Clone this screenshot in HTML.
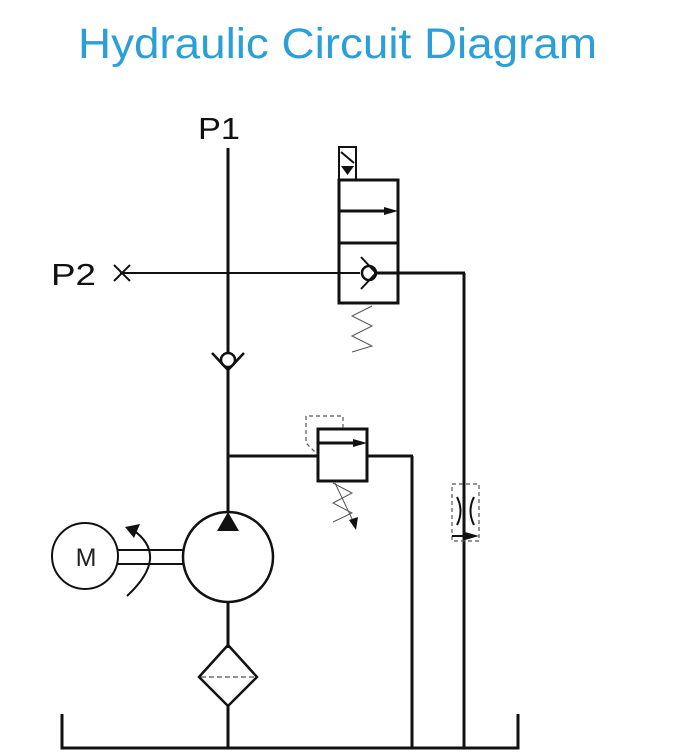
<!DOCTYPE html>
<html><head><style>html,body{margin:0;padding:0;background:#fff;width:700px;height:755px;overflow:hidden}</style></head>
<body>
<svg width="700" height="755" xmlns="http://www.w3.org/2000/svg" style="position:absolute;left:0;top:0">
<text x="78" y="58" textLength="519" lengthAdjust="spacingAndGlyphs" font-family="Liberation Sans, sans-serif" font-size="43" fill="#2a9fd8">Hydraulic Circuit Diagram</text>
<text x="198" y="139" textLength="42" lengthAdjust="spacingAndGlyphs" font-family="Liberation Sans, sans-serif" font-size="31" fill="#111">P1</text>
<text x="51" y="285" textLength="45" lengthAdjust="spacingAndGlyphs" font-family="Liberation Sans, sans-serif" font-size="31" fill="#111">P2</text>
<g stroke="#111" fill="none" stroke-width="2">
<line x1="114" y1="265" x2="130" y2="281"/><line x1="130" y1="265" x2="114" y2="281"/>
<line x1="120" y1="273" x2="360" y2="273" stroke-width="2"/>
<line x1="374" y1="273" x2="465" y2="273" stroke-width="3"/>
<line x1="464" y1="273" x2="464" y2="748" stroke-width="3"/>
<line x1="228" y1="148" x2="228" y2="352" stroke-width="3"/>
<line x1="228" y1="368" x2="228" y2="512" stroke-width="3"/>
<circle cx="228" cy="360" r="7" stroke-width="2.5"/>
<polyline points="212,353 228,370 244,353" stroke-width="2.5"/>
<rect x="339" y="180" width="59" height="123" stroke-width="3"/>
<line x1="339" y1="243" x2="398" y2="243" stroke-width="3"/>
<line x1="339" y1="211" x2="390" y2="211" stroke-width="3"/>
<rect x="339" y="147" width="17" height="33" stroke-width="2"/>
<line x1="341" y1="152" x2="354" y2="163" stroke-width="2"/>
<circle cx="369" cy="273" r="7" stroke-width="2.5"/>
<line x1="361" y1="257" x2="376" y2="273" stroke-width="2"/>
<line x1="361" y1="289" x2="376" y2="273" stroke-width="2"/>
<polyline points="372,306 352,316 372,326 352,336 372,346 352,352" stroke-width="1" stroke="#555"/>
<line x1="228" y1="456" x2="317" y2="456" stroke-width="3"/>
<line x1="367" y1="456" x2="413" y2="456" stroke-width="3"/>
<line x1="412" y1="456" x2="412" y2="748" stroke-width="3"/>
<rect x="318" y="429" width="49" height="52" stroke-width="3"/>
<line x1="318" y1="443" x2="360" y2="443" stroke-width="3"/>
<polyline points="343,428 343,416 306,416 306,443 316,453" stroke-width="1.2" stroke="#555" stroke-dasharray="4,3"/>
<polyline points="333,483 352,493 333,503 352,513 333,522" stroke-width="1" stroke="#555"/>
<line x1="335" y1="483" x2="353" y2="521" stroke-width="1" stroke="#555"/>
<rect x="452" y="484" width="27" height="57" stroke-width="1.2" stroke="#555" stroke-dasharray="4,3"/>
<path d="M457,497 Q464,511 457,525" stroke-width="2"/>
<path d="M474,497 Q467,511 474,525" stroke-width="2"/>
<line x1="452" y1="536" x2="472" y2="536" stroke-width="2"/>
<circle cx="228" cy="557" r="45" stroke-width="2.5"/>
<line x1="228" y1="602" x2="228" y2="648" stroke-width="3"/>
<polygon points="228,645 257,677 228,706 199,677" stroke-width="2.5"/>
<line x1="201" y1="677" x2="255" y2="677" stroke-width="1.2" stroke="#555" stroke-dasharray="5,3"/>
<line x1="228" y1="706" x2="228" y2="748" stroke-width="3"/>
<circle cx="85" cy="556" r="33" stroke-width="2"/>
<line x1="117" y1="550" x2="184" y2="550" stroke-width="2"/>
<line x1="117" y1="564" x2="184" y2="564" stroke-width="2"/>
<path d="M133,530 Q170,556 127,596" stroke-width="2"/>
<polyline points="62,714 62,748 518,748 518,714" stroke-width="3"/>
</g>
<g fill="#111">
<polygon points="217,531 239,531 228,512"/>
<polygon points="341,166 354,166 347.5,175"/>
<polygon points="398,211 384,207 384,215"/>
<polygon points="367,443 353,439 353,447"/>
<polygon points="479,536 465,532 465,540"/>
<polygon points="349,520 358,517 356,530"/>
<polygon points="125,527 140,524 134,538"/>
</g>
<text x="86" y="566" text-anchor="middle" font-family="Liberation Sans, sans-serif" font-size="25" fill="#222">M</text>
</svg>
</body></html>
